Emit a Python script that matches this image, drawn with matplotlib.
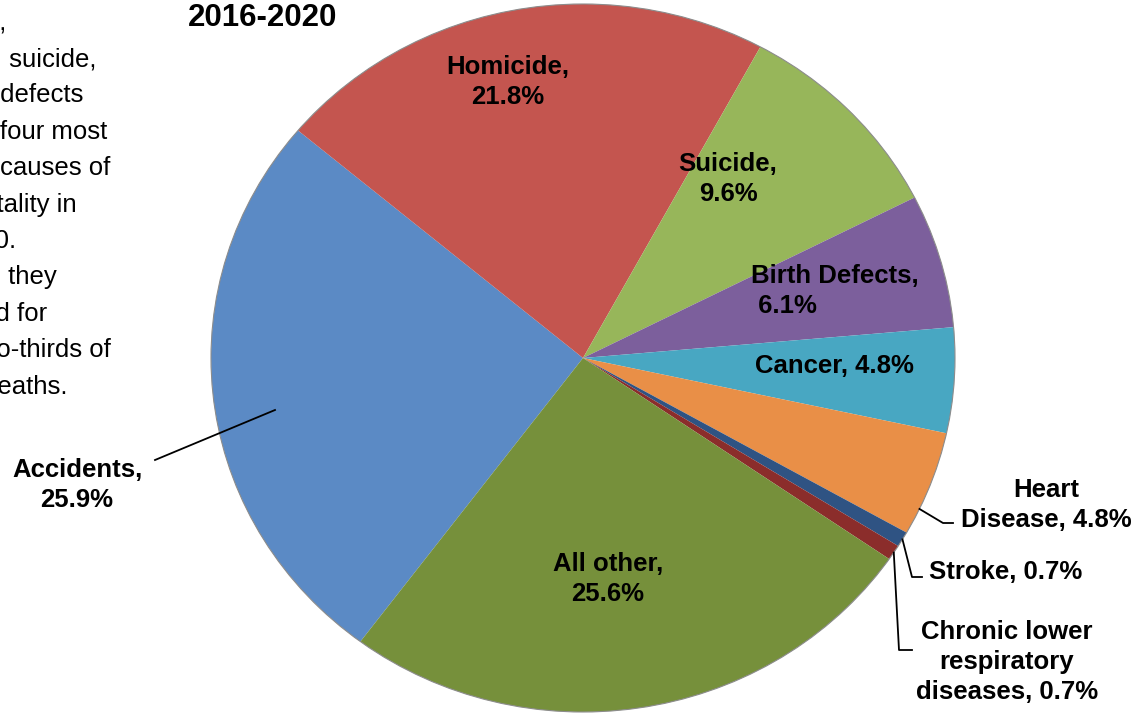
#Imports
import numpy as np
import matplotlib
matplotlib.use("Agg")
import matplotlib.pyplot as plt
import matplotlib.transforms as mtransforms
from matplotlib.patches import Circle

#Data
causes = ['Accidents', 'Homicide', 'Suicide', 'Birth Defects', 'Cancer',
          'Heart Disease', 'Stroke', 'Chronic lower respiratory diseases', 'All other']
percents = [25.9, 21.8, 9.6, 6.1, 4.8, 4.8, 0.7, 0.7, 25.6]
slice_colors = ['#5B8AC5', '#C4554F', '#97B65A', '#7C5F9C', '#48A7C2',
                '#E98F47', '#2F5383', '#8B2D2B', '#76903B']

# label layouts (line breaks as in the original chart)
label_formats = ['Accidents,\n{}%', 'Homicide,\n{}%', 'Suicide,\n{}%', 'Birth Defects,\n {}%',
                 'Cancer, {}%', 'Heart\nDisease, {}%', 'Stroke, {}%',
                 'Chronic lower\nrespiratory\ndiseases, {}%', 'All other,\n{}%']

side_lines = ['homicide,', ' suicide,', 'birth defects', 'were the four most',
              'common causes of', 'child mortality in', '2016-2020.', ' they',
              'accounted for', 'about two-thirds of', 'all deaths.']
side_line_ends = [7, 97, 83, 107, 110, 77, 17, 57, 47, 111, 68]

W, H = 1143, 724
plt.rcParams['font.family'] = ['Liberation Sans', 'DejaVu Sans']

fig = plt.figure(figsize=(W / 100, H / 100), dpi=100)
ax = fig.add_axes([0, 0, 1, 1])

# pie is a little wider than tall in the original
rx, ry = 372, 354
cx, cy = 583, 358
yscale = rx / ry
center = (cx, (H - cy) * yscale)
start = 140 + percents[0] * 3.6

wedges, _ = ax.pie(percents, colors=slice_colors, startangle=start,
                   counterclock=False, center=center, radius=rx,
                   wedgeprops=dict(linewidth=0))
ax.add_patch(Circle(center, rx, fill=False, edgecolor='#8c8c8c', linewidth=0.8))

ax.set_xlim(0, W)
ax.set_ylim(0, H * yscale)
ax.set_aspect('auto')
ax.axis('off')

# pixel positions (top-left origin) for text and leaders
px = mtransforms.Affine2D().scale(1 / W, -1 / H).translate(0, 1) + fig.transFigure

label_pos = [(77, 485), (508, 82), (728, 179), (751, 291), (834, 366),
             (1046, 505), (1006, 572), (1007, 662), (608, 579)]
for i in range(len(causes)):
    x, y = label_pos[i]
    ha = 'left' if causes[i] == 'Birth Defects' else 'center'
    ax.text(x, y, label_formats[i].format(percents[i]), transform=px, ha=ha, va='center',
            multialignment=ha, fontsize=18.5, fontweight='bold', linespacing=1.33)

# leader lines
def edge_point(i, frac=0.5):
    w = wedges[i]
    ang = np.deg2rad(w.theta2 + (w.theta1 - w.theta2) * frac)
    return cx + rx * np.cos(ang), cy - ry * np.sin(ang)

ax.plot([155, 275], [460, 410], color='black', linewidth=1.3, transform=px)
elbows = {'Heart Disease': (0.75, [(943, 523), (953, 523)]),
          'Stroke': (0.5, [(912, 577), (922, 577)]),
          'Chronic lower respiratory diseases': (0.5, [(899, 650), (912, 650)])}
for name, (frac, pts) in elbows.items():
    pts = [edge_point(causes.index(name), frac)] + pts
    ax.plot([p[0] for p in pts], [p[1] for p in pts], color='black', linewidth=1.3,
            transform=px, clip_on=False)

# title (only its last line shows)
ax.text(188, 26, 'Child Mortality by Cause,\n2016-2020', transform=px, ha='left', va='baseline',
        fontsize=22.5, fontweight='bold', linespacing=1.2)

# side note, cut off by the left edge
for i in range(len(side_lines)):
    ax.text(side_line_ends[i], 66 + (i - 1) * 36.4, side_lines[i], transform=px,
            ha='right', va='baseline', fontsize=18.5)

fig.savefig('out.png', dpi=100)
